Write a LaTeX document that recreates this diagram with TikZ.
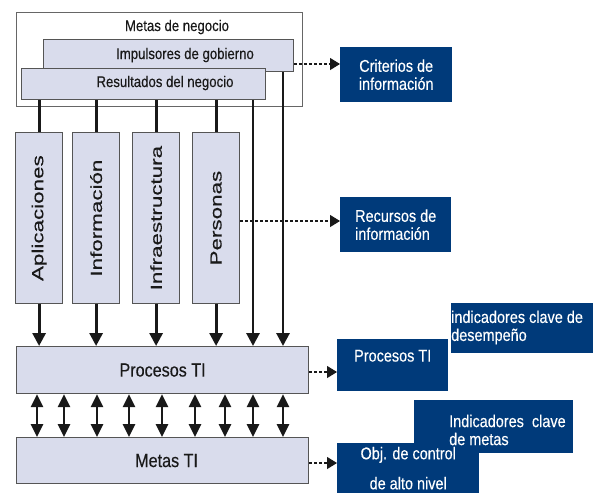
\documentclass[tikz,border=0pt]{standalone}
\usepackage{fontspec}
\setmainfont{Liberation Sans}
\newfontfamily\narrowfont[FakeStretch=0.85, FakeBold=0.3]{Liberation Sans}
\newfontfamily\widefont[FakeStretch=1.4, FakeBold=0.3]{Liberation Sans}
\usetikzlibrary{arrows.meta}
\definecolor{navy}{RGB}{0,58,122}
\definecolor{boxfill}{RGB}{217,220,236}
\definecolor{boxline}{RGB}{85,85,85}
\definecolor{ink}{RGB}{25,25,25}

\begin{document}
\begin{tikzpicture}[x=1pt,y=-1pt]
\tikzset{graybox/.style = {draw=boxline, fill=boxfill, line width=1.2pt, inner sep=0pt, anchor=north west}}
\tikzset{pillar/.style = {graybox, minimum width=47pt, minimum height=171pt, text=ink, font=\fontsize{16}{18}\widefont}}
\tikzset{toptext/.style = {text=ink, inner sep=0pt, font=\fontsize{15.5}{18}\narrowfont}}
\tikzset{bigtext/.style = {text=ink, font=\fontsize{19}{22}\narrowfont}}
\tikzset{bluebox/.style = {fill=navy, text=white, inner sep=0pt, anchor=north west, font=\fontsize{17}{18}\narrowfont}}
\tikzset{bluetext/.style = {text=white, inner sep=0pt, anchor=west, align=left, font=\fontsize{17}{18}\narrowfont}}
\tikzset{link/.style = {draw=ink, line width=2.9pt}}
\tikzset{flow/.style = {link, -{Triangle[width=13pt,length=13pt]}}}
\tikzset{twoway/.style = {link, {Triangle[width=12pt,length=13pt]}-{Triangle[width=12pt,length=13pt]}}}
\tikzset{hint/.style = {draw=ink, line width=1.2pt, dash pattern=on 2.5pt off 2.5pt, -{Triangle[width=12pt,length=10pt]}}}

\useasboundingbox (0,0) rectangle (593,493);

% business block
\node[graybox, fill=white, draw=boxline!90, minimum width=286pt, minimum height=94pt] (goals) at (16,12) {};
\node[toptext] (goals-t) at (177,27) {Metas de negocio};
\node[graybox, minimum width=250pt, minimum height=32pt] (imp) at (43,39) {};
\node[toptext] (imp-t) at (185,55) {Impulsores de gobierno};
\node[graybox, minimum width=244pt, minimum height=31pt] (res) at (21,68) {};
\node[toptext] (res-t) at (165,83) {Resultados del negocio};

% resources
\node[pillar] (apl) at (15,132) {\rotatebox{90}{Aplicaciones}};
\node[pillar] (inf) at (72,132) {\rotatebox{90}{Información}};
\node[pillar] (infra) at (132,132) {\rotatebox{90}{Infraestructura}};
\node[pillar] (pers) at (192,132) {\rotatebox{90}{Personas}};

\node[graybox, minimum width=292pt, minimum height=47pt] (proc) at (16,346) {};
\node[bigtext] (proc-t) at (proc.center) {Procesos TI};
\node[graybox, minimum width=292pt, minimum height=46pt] (metas) at (16,437) {};
\node[bigtext] (metas-t) at ([xshift=4pt]metas.center) {Metas TI};

% blue boxes
\node[bluebox, minimum width=112pt, minimum height=55pt, align=center] (crit) at (340,47) {Criterios de\\información};
\node[bluebox, minimum width=111pt, minimum height=55pt, align=left] (rec) at (340,197) {Recursos de\\información};
\node[bluebox, minimum width=111pt, minimum height=52pt, text depth=19pt] (procb) at (337,339) {Procesos TI};
\node[bluebox, minimum width=142pt, minimum height=50pt] (kpi) at (451,303) {};
\node[bluetext] (kpi-t) at (451,327.5) {indicadores clave de\\desempeño};
\node[bluebox, minimum width=159pt, minimum height=53pt] (kgi) at (414,400) {};
\node[bluebox, minimum width=142pt, minimum height=50pt, align=center, font=\fontsize{17}{30}\narrowfont] (obj) at (337,443) {Obj. de control\\de alto nivel};
\node[bluetext] (kgi-t) at (449,430) {Indicadores\ \ clave\\de metas};

%edges
\foreach \n in {apl,inf,infra,pers} \draw[link] (\n.north |- res.south) -- (\n.north);
\foreach \n in {apl,inf,infra,pers} \draw[flow] (\n.south) -- (\n.south |- proc.north);
\draw[flow] (253,0 |- res.south) -- (253,0 |- proc.north);
\draw[flow] (283,0 |- imp.south) -- (283,0 |- proc.north);
\foreach \x in {37,64,97,129,162,195,225,253,283}
  \draw[twoway] (\x,0 |- proc.south) -- (\x,0 |- metas.north);

%dotted links
\draw[hint] (imp.east |- 0,64) -- (crit.west |- 0,64);
\draw[hint] (pers.east |- 0,221) -- (rec.west |- 0,221);
\draw[hint] (proc.east |- 0,372) -- (procb.west |- 0,372);
\draw[hint] (metas.east |- 0,463) -- (obj.west |- 0,463);

\end{tikzpicture}
\end{document}
